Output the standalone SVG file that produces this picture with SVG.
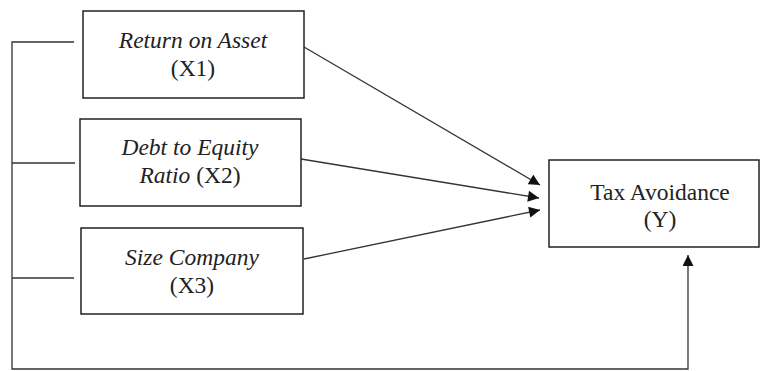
<svg xmlns="http://www.w3.org/2000/svg" width="760" height="371" viewBox="0 0 760 371">
<style>
.box{fill:#fff;stroke:#222;stroke-width:1.5}
.t{font-family:"Liberation Serif","Times New Roman",serif;font-size:23.5px;fill:#222;text-anchor:middle}
.i{font-style:italic}
.ln{fill:none;stroke:#333;stroke-width:1.3}
</style>
<defs>
<marker id="ah" viewBox="0 0 10 10" refX="10" refY="5" markerWidth="12" markerHeight="11" markerUnits="userSpaceOnUse" orient="auto">
<path d="M0,0 L10,5 L0,10 z" fill="#111"/>
</marker>
</defs>
<rect width="760" height="371" fill="#fff"/>
<g id="connectors">
<path class="ln" d="M74,42 H12 V369 H688 V255" marker-end="url(#ah)"/>
<path class="ln" d="M12,163 H75"/>
<path class="ln" d="M12,278 H74"/>
<line class="ln" x1="304" y1="47" x2="540" y2="185" marker-end="url(#ah)"/>
<line class="ln" x1="301" y1="159" x2="539" y2="198" marker-end="url(#ah)"/>
<line class="ln" x1="304" y1="259" x2="540" y2="210" marker-end="url(#ah)"/>
</g>
<g id="x1">
<rect class="box" x="83" y="11" width="221" height="87"/>
<text class="t i" x="193" y="48">Return on Asset</text>
<text class="t" x="193" y="76">(X1)</text>
</g>
<g id="x2">
<rect class="box" x="80" y="119" width="221" height="87"/>
<text class="t i" x="190" y="155">Debt to Equity</text>
<text class="t" x="190" y="183"><tspan class="i">Ratio</tspan> (X2)</text>
</g>
<g id="x3">
<rect class="box" x="81" y="228" width="222" height="86"/>
<text class="t i" x="192" y="265">Size Company</text>
<text class="t" x="192" y="293">(X3)</text>
</g>
<g id="y">
<rect class="box" x="549" y="160" width="210" height="87"/>
<text class="t" x="660" y="200">Tax Avoidance</text>
<text class="t" x="660" y="227">(Y)</text>
</g>
</svg>
